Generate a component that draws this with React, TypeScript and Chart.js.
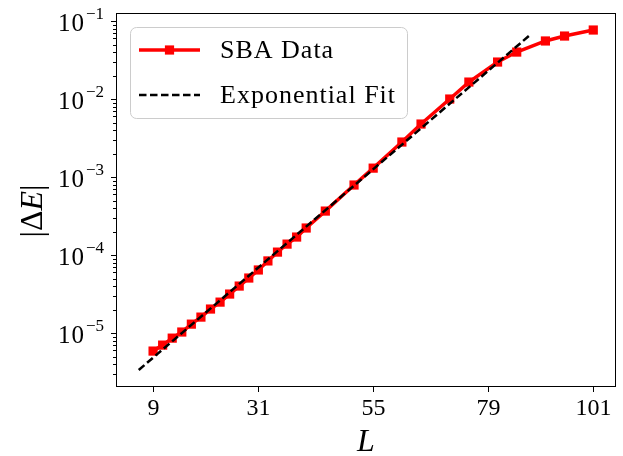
import React, { useEffect, useRef } from "react";
import { Chart, registerables } from "chart.js";

Chart.register(...registerables);

// ---- data ----
const L_VALUES = [9, 11, 13, 15, 17, 19, 21, 23, 25, 27, 29, 31, 33, 35, 37, 39, 41, 45, 51, 55, 61, 65, 71, 75, 81, 85, 91, 95, 101];
const DELTA_E = [
  5.87e-6, 7.0e-6, 8.6e-6, 1.03e-5, 1.3e-5, 1.6e-5, 2.03e-5, 2.49e-5, 3.16e-5, 4.0e-5,
  5.07e-5, 6.43e-5, 8.4e-5, 1.09e-4, 1.38e-4, 1.7e-4, 2.22e-4, 3.66e-4, 7.9e-4, 1.3e-3,
  2.81e-3, 4.78e-3, 1.0e-2, 1.65e-2, 2.98e-2, 4.0e-2, 5.55e-2, 6.42e-2, 7.67e-2,
];
const FIT_L = [6, 88];
const FIT_E = [3.36e-6, 6.8e-2];
const X_TICKS = [9, 31, 55, 79, 101];
const Y_EXPONENTS = [-1, -2, -3, -4, -5];
const SERIES_LABELS = ["SBA Data", "Exponential Fit"];
const X_TITLE = "L";

const SERIF = '"Liberation Serif", "Times New Roman", serif';

const decorPlugin = {
  id: "decor",
  afterDraw(chart: any) {
    const { ctx, chartArea: a, scales } = chart;
    const xs = scales.x;
    const ys = scales.y;
    ctx.save();
    ctx.fillStyle = "#000";
    ctx.strokeStyle = "#000";

    // frame
    ctx.lineWidth = 1;
    ctx.strokeRect(a.left + 0.5, a.top + 0.5, a.right - a.left - 1, a.bottom - a.top - 1);

    // x ticks + labels
    ctx.font = `24px ${SERIF}`;
    ctx.textAlign = "center";
    ctx.textBaseline = "alphabetic";
    for (const v of X_TICKS) {
      const px = Math.round(xs.getPixelForValue(v)) + 0.5;
      ctx.beginPath();
      ctx.moveTo(px, a.bottom);
      ctx.lineTo(px, a.bottom + 5);
      ctx.stroke();
      ctx.fillText(String(v), px, a.bottom + 28);
    }

    // y minor ticks
    const yMin = ys.min;
    const yMax = ys.max;
    for (let k = -7; k <= 0; k++) {
      for (let m = 2; m <= 9; m++) {
        const v = m * Math.pow(10, k);
        if (v < yMin || v > yMax) continue;
        const py = Math.round(ys.getPixelForValue(v)) + 0.5;
        ctx.beginPath();
        ctx.moveTo(a.left - 3, py);
        ctx.lineTo(a.left, py);
        ctx.stroke();
      }
    }
    // y major ticks + labels
    for (const e of Y_EXPONENTS) {
      const py = Math.round(ys.getPixelForValue(Math.pow(10, e))) + 0.5;
      ctx.beginPath();
      ctx.moveTo(a.left - 5, py);
      ctx.lineTo(a.left, py);
      ctx.stroke();
      const base = "10";
      const sup = "\u2212" + String(Math.abs(e));
      ctx.font = `17px ${SERIF}`;
      const supW = ctx.measureText(sup).width;
      ctx.font = `25px ${SERIF}`;
      (ctx as any).letterSpacing = "1px";
      const baseW = ctx.measureText(base).width;
      const right = a.left - 12;
      ctx.textAlign = "left";
      ctx.fillText(base, right - supW - baseW - 1, py + 9);
      (ctx as any).letterSpacing = "0px";
      ctx.font = `17px ${SERIF}`;
      ctx.fillText(sup, right - supW, py - 3);
    }

    // x title
    ctx.font = `italic 32px ${SERIF}`;
    ctx.textAlign = "center";
    ctx.fillText(X_TITLE, (a.left + a.right) / 2, 451);

    // y title |ΔE|
    ctx.save();
    ctx.translate(42, (a.top + a.bottom) / 2 + 11);
    ctx.rotate(-Math.PI / 2);
    const parts: [string, string][] = [
      ["|\u0394", `32px ${SERIF}`],
      ["E", `italic 32px ${SERIF}`],
      ["|", `32px ${SERIF}`],
    ];
    let total = 0;
    for (const [t, f] of parts) {
      ctx.font = f;
      total += ctx.measureText(t).width;
    }
    let cx = -total / 2;
    ctx.textAlign = "left";
    for (const [t, f] of parts) {
      ctx.font = f;
      ctx.fillText(t, cx, 0);
      cx += ctx.measureText(t).width;
    }
    ctx.restore();

    // legend
    const bx = 130, by = 27, bw = 277, bh = 91;
    ctx.beginPath();
    (ctx as any).roundRect(bx + 0.5, by + 0.5, bw, bh, 6);
    ctx.fillStyle = "rgba(255,255,255,0.85)";
    ctx.fill();
    ctx.strokeStyle = "#cccccc";
    ctx.lineWidth = 1;
    ctx.stroke();

    const ds = chart.data.datasets;
    const rows = [
      { y: 50, ds: ds.find((d: any) => d.label === SERIES_LABELS[0]) },
      { y: 95, ds: ds.find((d: any) => d.label === SERIES_LABELS[1]) },
    ];
    for (const r of rows) {
      const d = r.ds;
      ctx.save();
      ctx.strokeStyle = d.borderColor;
      ctx.lineWidth = d.borderWidth;
      ctx.setLineDash(d.borderDash || []);
      ctx.beginPath();
      ctx.moveTo(139, r.y);
      ctx.lineTo(200, r.y);
      ctx.stroke();
      ctx.restore();
      if (d.pointRadius > 0) {
        ctx.fillStyle = d.pointBackgroundColor;
        ctx.fillRect(169.5 - 4.6, r.y - 4.6, 9.2, 9.2);
      }
      ctx.fillStyle = "#000";
      ctx.font = `26px ${SERIF}`;
      (ctx as any).letterSpacing = "1px";
      ctx.textAlign = "left";
      ctx.textBaseline = "middle";
      ctx.fillText(d.label, 220, r.y + 1);
      (ctx as any).letterSpacing = "0px";
      ctx.textBaseline = "alphabetic";
    }

    ctx.restore();
  },
};

export default function App() {
  const ref = useRef<HTMLCanvasElement | null>(null);

  useEffect(() => {
    if (!ref.current) return;
    const dataPts = L_VALUES.map((l, i) => ({ x: l, y: DELTA_E[i] }));
    const fitPts = FIT_L.map((l, i) => ({ x: l, y: FIT_E[i] }));
    const chart = new Chart(ref.current, {
      type: "line",
      data: {
        datasets: [
          {
            label: SERIES_LABELS[0],
            data: dataPts,
            borderColor: "#ff0000",
            backgroundColor: "#ff0000",
            pointBackgroundColor: "#ff0000",
            pointBorderColor: "#ff0000",
            borderWidth: 3.5,
            pointStyle: "rect",
            pointRadius: 6.5,
            pointBorderWidth: 0,
            order: 1,
          } as any,
          {
            label: SERIES_LABELS[1],
            data: fitPts,
            borderColor: "#000000",
            backgroundColor: "#000000",
            borderWidth: 2.5,
            borderDash: [7.5, 3.5],
            pointRadius: 0,
            order: 0,
          } as any,
        ],
      },
      options: {
        responsive: false,
        animation: false,
        layout: { padding: { left: 0, top: 13, right: 7, bottom: 0 } },
        plugins: { legend: { display: false }, tooltip: { enabled: false } },
        scales: {
          x: {
            type: "linear",
            min: 1.25,
            max: 105.75,
            grid: { display: false },
            border: { display: false },
            ticks: { display: false },
            afterFit: (s: any) => {
              s.height = 69;
            },
          },
          y: {
            type: "logarithmic",
            min: Math.pow(10, -5.692),
            max: Math.pow(10, -0.897),
            grid: { display: false },
            border: { display: false },
            ticks: { display: false },
            afterFit: (s: any) => {
              s.width = 116;
            },
          },
        },
      } as any,
      plugins: [decorPlugin],
    });
    return () => chart.destroy();
  }, []);

  return (
    <div style={{ position: "fixed", left: 0, top: 0, width: 623, height: 456, background: "#fff" }}>
      <canvas ref={ref} width={623} height={456} style={{ display: "block" }} />
    </div>
  );
}
